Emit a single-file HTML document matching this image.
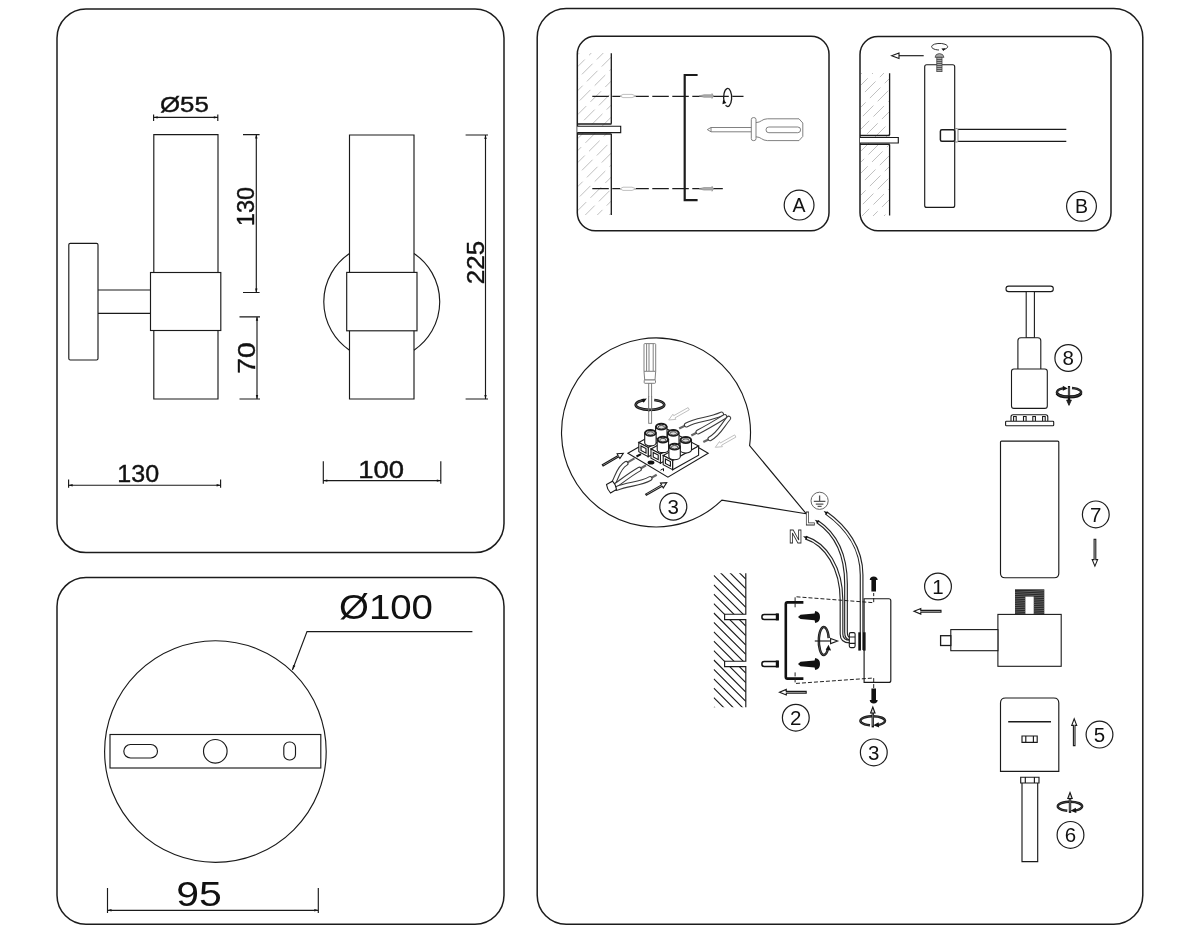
<!DOCTYPE html>
<html><head><meta charset="utf-8"><title>Installation diagram</title>
<style>
html,body{margin:0;padding:0;background:#fff;}
body{width:1200px;height:933px;overflow:hidden;position:relative;}
svg{position:absolute;left:0;top:0;display:block;filter:grayscale(1);}
text{font-family:"Liberation Sans",sans-serif;fill:#111;}
.b{fill:none;stroke:#1c1c1c;stroke-width:1.5;}
.l{fill:none;stroke:#1a1a1a;stroke-width:1.15;}
.lw{fill:#fff;stroke:#1a1a1a;stroke-width:1.1;}
.m{fill:none;stroke:#1c1c1c;stroke-width:1.5;}
.k{fill:none;stroke:#111;stroke-width:2.6;}
.g{fill:none;stroke:#7a7a7a;stroke-width:0.95;}
.gw{fill:#fff;stroke:#7a7a7a;stroke-width:0.95;}
.lg{fill:none;stroke:#b9b9b9;stroke-width:0.9;}
.lgw{fill:#fff;stroke:#b9b9b9;stroke-width:0.9;}
.d{fill:none;stroke:#1c1c1c;stroke-width:1.25;stroke-dasharray:16.5 3.5;}
.ds{fill:none;stroke:#222;stroke-width:1;stroke-dasharray:4 2;}
.f{fill:#111;stroke:none;}
.c{fill:#fff;stroke:#1c1c1c;stroke-width:1.2;}
.n{font-size:20.5px;text-anchor:middle;}
.dm{stroke:#111;stroke-width:0.4px;}
</style></head><body>
<svg width="1200" height="933" viewBox="0 0 1200 933">
<rect x="0" y="0" width="1200" height="933" fill="#fff"/>

<rect class="b" x="57" y="9" width="447" height="543.6" rx="29" ry="29"/>
<rect class="b" x="57" y="577.4" width="447" height="346.8" rx="29" ry="29"/>
<rect class="b" x="537.2" y="8.6" width="605.6" height="915.7" rx="29" ry="29"/>
<g class="l">
<rect x="68.8" y="243.3" width="29.2" height="116.7" rx="1.5"/>
<path d="M98,290 H150.5 M98,313.3 H150.5"/>
<rect x="150.5" y="272.5" width="70.3" height="58"/>
<path d="M153.8,272.5 V134.6 H218 V272.5 M153.8,330.5 V399 H218 V330.5"/>
<path d="M153.6,117.4 H217.8 M153.6,114.4 V121 M217.8,114.4 V121"/>
<path d="M256.3,134.6 V292.5 M243,134.6 H259.6 M243,292.5 H259.6"/>
<path d="M257,316.8 V399 M239.5,316.8 H260 M239.5,399 H260"/>
<path d="M349.5,253.5 A58.3,58.3 0 0 0 349.5,350.2 M414,253.5 A58.3,58.3 0 0 1 414,350.2"/>
<rect x="346.7" y="272.4" width="70.3" height="58.4"/>
<path d="M349.5,272.4 V135 H414 V272.4 M349.5,330.8 V399 H414 V330.8"/>
<path d="M485.5,135 V399 M465.6,135 H488 M465.6,399 H488"/>
<path d="M68.6,485.2 H220.6 M68.6,479.6 V487.8 M220.6,479.6 V487.8"/>
<path d="M323.3,480.6 H440.8 M323.3,461.2 V483.8 M440.8,461.2 V483.8"/>
</g>
<path class="f" d="M153.6,117.4 L157.6,116.2 L157.6,118.6 Z"/>
<path class="f" d="M217.8,117.4 L213.8,118.6 L213.8,116.2 Z"/>
<path class="f" d="M256.3,134.6 L257.5,138.6 L255.1,138.6 Z"/>
<path class="f" d="M256.3,292.5 L255.1,288.5 L257.5,288.5 Z"/>
<path class="f" d="M257.0,316.8 L258.2,320.8 L255.8,320.8 Z"/>
<path class="f" d="M257.0,399.0 L255.8,395.0 L258.2,395.0 Z"/>
<path class="f" d="M485.5,135.0 L486.7,139.0 L484.3,139.0 Z"/>
<path class="f" d="M485.5,399.0 L484.3,395.0 L486.7,395.0 Z"/>
<path class="f" d="M68.6,485.2 L72.6,484.0 L72.6,486.4 Z"/>
<path class="f" d="M220.6,485.2 L216.6,486.4 L216.6,484.0 Z"/>
<path class="f" d="M323.3,480.6 L327.3,479.4 L327.3,481.8 Z"/>
<path class="f" d="M440.8,480.6 L436.8,481.8 L436.8,479.4 Z"/>
<path class="f" d="M107.5,910.3 L111.5,909.1 L111.5,911.5 Z"/>
<path class="f" d="M318.3,910.3 L314.3,911.5 L314.3,909.1 Z"/>
<text class="dm" x="160" y="111.8" font-size="22.5" textLength="48.8" lengthAdjust="spacingAndGlyphs">Ø55</text>
<text class="dm" transform="translate(253.9,226) rotate(-90)" font-size="23.5" textLength="39" lengthAdjust="spacingAndGlyphs">130</text>
<text class="dm" transform="translate(254.6,373.8) rotate(-90)" font-size="23.5" textLength="31.5" lengthAdjust="spacingAndGlyphs">70</text>
<text class="dm" transform="translate(483.6,284.2) rotate(-90)" font-size="24" textLength="43.4" lengthAdjust="spacingAndGlyphs">225</text>
<text class="dm" x="117.3" y="482.4" font-size="23.5" textLength="41.8" lengthAdjust="spacingAndGlyphs">130</text>
<text class="dm" x="358.2" y="478.3" font-size="23" textLength="45.8" lengthAdjust="spacingAndGlyphs">100</text>
<g class="l">
<circle cx="215.4" cy="751.5" r="110.8"/>
<rect x="110" y="734.5" width="210.8" height="33.5"/>
<rect x="123.8" y="744.5" width="33.7" height="13.5" rx="6.75"/>
<circle cx="215.3" cy="751.3" r="11.8"/>
<rect x="283.8" y="742" width="11.7" height="18" rx="5.5"/>
<path d="M292.4,670 L307,631.6 H472.4"/>
<path d="M107.5,910.3 H318.3 M107.5,888 V913 M318.3,888 V913"/>
</g>
<path class="f" d="M292.4,670.0 L293.0,664.9 L295.4,665.8 Z"/>
<text x="339" y="619" font-size="34.4" textLength="94" lengthAdjust="spacingAndGlyphs">Ø100</text>
<text x="176.3" y="905.5" font-size="35.3" textLength="45.6" lengthAdjust="spacingAndGlyphs">95</text><defs>
<clipPath id="hA"><rect x="578" y="53" width="33" height="162"/></clipPath>
<clipPath id="hB"><rect x="861" y="73" width="28.4" height="143"/></clipPath>
</defs>
<rect class="b" x="577.3" y="36.2" width="251.7" height="194.6" rx="18" ry="18"/>
<g clip-path="url(#hA)"><path class="lg" stroke-width="1.1" stroke="#a6a6a6" stroke-dasharray="15 6" stroke-dashoffset="0" d="M577.0,43.3 L611.2,9.1"/><path class="lg" stroke-width="1.1" stroke="#a6a6a6" stroke-dasharray="15 6" stroke-dashoffset="9" d="M577.0,55.3 L611.2,21.1"/><path class="lg" stroke-width="1.1" stroke="#a6a6a6" stroke-dasharray="15 6" stroke-dashoffset="4" d="M577.0,67.3 L611.2,33.1"/><path class="lg" stroke-width="1.1" stroke="#a6a6a6" stroke-dasharray="15 6" stroke-dashoffset="14" d="M577.0,79.3 L611.2,45.1"/><path class="lg" stroke-width="1.1" stroke="#a6a6a6" stroke-dasharray="15 6" stroke-dashoffset="7" d="M577.0,91.3 L611.2,57.1"/><path class="lg" stroke-width="1.1" stroke="#a6a6a6" stroke-dasharray="15 6" stroke-dashoffset="17" d="M577.0,103.3 L611.2,69.1"/><path class="lg" stroke-width="1.1" stroke="#a6a6a6" stroke-dasharray="15 6" stroke-dashoffset="2" d="M577.0,115.3 L611.2,81.1"/><path class="lg" stroke-width="1.1" stroke="#a6a6a6" stroke-dasharray="15 6" stroke-dashoffset="11" d="M577.0,127.3 L611.2,93.1"/><path class="lg" stroke-width="1.1" stroke="#a6a6a6" stroke-dasharray="15 6" stroke-dashoffset="0" d="M577.0,139.3 L611.2,105.1"/><path class="lg" stroke-width="1.1" stroke="#a6a6a6" stroke-dasharray="15 6" stroke-dashoffset="9" d="M577.0,151.3 L611.2,117.1"/><path class="lg" stroke-width="1.1" stroke="#a6a6a6" stroke-dasharray="15 6" stroke-dashoffset="4" d="M577.0,163.3 L611.2,129.1"/><path class="lg" stroke-width="1.1" stroke="#a6a6a6" stroke-dasharray="15 6" stroke-dashoffset="14" d="M577.0,175.3 L611.2,141.1"/><path class="lg" stroke-width="1.1" stroke="#a6a6a6" stroke-dasharray="15 6" stroke-dashoffset="7" d="M577.0,187.3 L611.2,153.1"/><path class="lg" stroke-width="1.1" stroke="#a6a6a6" stroke-dasharray="15 6" stroke-dashoffset="17" d="M577.0,199.3 L611.2,165.1"/><path class="lg" stroke-width="1.1" stroke="#a6a6a6" stroke-dasharray="15 6" stroke-dashoffset="2" d="M577.0,211.3 L611.2,177.1"/><path class="lg" stroke-width="1.1" stroke="#a6a6a6" stroke-dasharray="15 6" stroke-dashoffset="11" d="M577.0,223.3 L611.2,189.1"/><path class="lg" stroke-width="1.1" stroke="#a6a6a6" stroke-dasharray="15 6" stroke-dashoffset="0" d="M577.0,235.3 L611.2,201.1"/><path class="lg" stroke-width="1.1" stroke="#a6a6a6" stroke-dasharray="15 6" stroke-dashoffset="9" d="M577.0,247.3 L611.2,213.1"/><path class="lg" stroke-width="1.1" stroke="#a6a6a6" stroke-dasharray="15 6" stroke-dashoffset="4" d="M577.0,259.3 L611.2,225.1"/></g>
<g class="l">
<path stroke-width="1.3" d="M611.3,53.2 V123.7 M611.3,134 V215"/>
<path class="m" d="M577.3,123.9 H611.5 M577.3,134 H611.5"/>
<path d="M577.3,126.2 H620.7 V132.6 H577.3" fill="#fff"/>
</g>
<path class="d" d="M592.3,96.4 H743.5"/>
<path class="d" d="M592.3,188.6 H722.8"/>
<path d="M697.6,75 H684.7 V200.2 H697.6" fill="none" stroke="#1c1c1c" stroke-width="2.2"/>
<path class="lgw" d="M620,96.0 l3,-1.6 h9 l4,1.6 l-4,1.6 h-9 z"/>
<path d="M699,96.0 l5,-1.3 h8 v-1.2 l1.6,2.5 l-1.6,2.5 v-1.2 h-8 z" fill="#aaa" stroke="#888" stroke-width="0.6"/>
<path class="lgw" d="M620,188.8 l3,-1.6 h9 l4,1.6 l-4,1.6 h-9 z"/>
<path d="M699,188.8 l5,-1.3 h8 v-1.2 l1.6,2.5 l-1.6,2.5 v-1.2 h-8 z" fill="#aaa" stroke="#888" stroke-width="0.6"/>
<path d="M725.6,105.2 A4,9 0 1 0 724.2,102" fill="none" stroke="#1c1c1c" stroke-width="1.3"/>
<path class="f" d="M723.2,99.6 l3.2,3.4 l-4,1.2 z"/>
<g class="g">
<path d="M707.3,129.6 L711,127.5 H751.3 M707.3,129.6 L711,131.8 H751.3 M711,127.5 V131.8" />
<rect x="751.3" y="117.6" width="4.7" height="23" rx="2"/>
<path d="M756,122.6 C761,122.6 762,118.8 767.3,118.8 H799 L802.8,123 V136.4 L799,140.6 H767.3 C762,140.6 761,136.8 756,136.8"/>
<rect x="766" y="127" width="34.6" height="5.7" rx="2.85"/>
</g>
<circle class="c" cx="799.1" cy="205.1" r="14.9"/>
<text x="799.1" y="212.1" font-size="19.5" text-anchor="middle">A</text>
<rect class="b" x="860" y="36.5" width="251" height="194.3" rx="18" ry="18"/>
<g clip-path="url(#hB)"><path class="lg" stroke-width="1.1" stroke="#a6a6a6" stroke-dasharray="15 6" stroke-dashoffset="0" d="M860.0,64.0 L889.6,34.4"/><path class="lg" stroke-width="1.1" stroke="#a6a6a6" stroke-dasharray="15 6" stroke-dashoffset="9" d="M860.0,75.0 L889.6,45.4"/><path class="lg" stroke-width="1.1" stroke="#a6a6a6" stroke-dasharray="15 6" stroke-dashoffset="4" d="M860.0,86.0 L889.6,56.4"/><path class="lg" stroke-width="1.1" stroke="#a6a6a6" stroke-dasharray="15 6" stroke-dashoffset="14" d="M860.0,97.0 L889.6,67.4"/><path class="lg" stroke-width="1.1" stroke="#a6a6a6" stroke-dasharray="15 6" stroke-dashoffset="7" d="M860.0,108.0 L889.6,78.4"/><path class="lg" stroke-width="1.1" stroke="#a6a6a6" stroke-dasharray="15 6" stroke-dashoffset="17" d="M860.0,119.0 L889.6,89.4"/><path class="lg" stroke-width="1.1" stroke="#a6a6a6" stroke-dasharray="15 6" stroke-dashoffset="2" d="M860.0,130.0 L889.6,100.4"/><path class="lg" stroke-width="1.1" stroke="#a6a6a6" stroke-dasharray="15 6" stroke-dashoffset="11" d="M860.0,141.0 L889.6,111.4"/><path class="lg" stroke-width="1.1" stroke="#a6a6a6" stroke-dasharray="15 6" stroke-dashoffset="0" d="M860.0,152.0 L889.6,122.4"/><path class="lg" stroke-width="1.1" stroke="#a6a6a6" stroke-dasharray="15 6" stroke-dashoffset="9" d="M860.0,163.0 L889.6,133.4"/><path class="lg" stroke-width="1.1" stroke="#a6a6a6" stroke-dasharray="15 6" stroke-dashoffset="4" d="M860.0,174.0 L889.6,144.4"/><path class="lg" stroke-width="1.1" stroke="#a6a6a6" stroke-dasharray="15 6" stroke-dashoffset="14" d="M860.0,185.0 L889.6,155.4"/><path class="lg" stroke-width="1.1" stroke="#a6a6a6" stroke-dasharray="15 6" stroke-dashoffset="7" d="M860.0,196.0 L889.6,166.4"/><path class="lg" stroke-width="1.1" stroke="#a6a6a6" stroke-dasharray="15 6" stroke-dashoffset="17" d="M860.0,207.0 L889.6,177.4"/><path class="lg" stroke-width="1.1" stroke="#a6a6a6" stroke-dasharray="15 6" stroke-dashoffset="2" d="M860.0,218.0 L889.6,188.4"/><path class="lg" stroke-width="1.1" stroke="#a6a6a6" stroke-dasharray="15 6" stroke-dashoffset="11" d="M860.0,229.0 L889.6,199.4"/><path class="lg" stroke-width="1.1" stroke="#a6a6a6" stroke-dasharray="15 6" stroke-dashoffset="0" d="M860.0,240.0 L889.6,210.4"/><path class="lg" stroke-width="1.1" stroke="#a6a6a6" stroke-dasharray="15 6" stroke-dashoffset="9" d="M860.0,251.0 L889.6,221.4"/></g>
<g class="l">
<path stroke-width="1.3" d="M889.6,73.2 V135.3 M889.6,144.4 V215.6"/>
<path class="m" d="M860,135.4 H889.8 M860,144.3 H889.8"/>
<path d="M860,137.5 H898.3 V143 H860" fill="#fff"/>
<rect x="924.7" y="64.7" width="30" height="142.7" rx="2"/>
<path d="M958,129.3 H1066.3 M958,141.3 H1066.3"/>
<rect x="954.7" y="128.6" width="3.3" height="13.4" rx="1" class="g"/>
<rect x="940.4" y="129.8" width="14.3" height="11.4" rx="1.5" class="m"/>
</g>
<path class="l" d="M923.7,55.7 H899"/>
<path class="lw" d="M899,53 L891.7,55.7 L899,58.4 Z"/>
<g stroke="#444" stroke-width="0.8" fill="#aaa">
<path d="M935,57.3 Q935.5,53.6 939.4,53.6 Q943.4,53.6 944,57.3 Z"/>
<rect x="936.8" y="57.3" width="5.2" height="14.3"/>
<path d="M936.8,59.5 h5.2 M936.8,61.5 h5.2 M936.8,63.5 h5.2 M936.8,65.5 h5.2 M936.8,67.5 h5.2 M936.8,69.5 h5.2" fill="none"/>
</g>
<path d="M943.5,49.6 A8,3.3 0 1 0 939,50" fill="none" stroke="#333" stroke-width="1"/>
<path class="f" d="M945.6,48.2 l-4.2,0.2 l2,2.6 z"/>
<circle class="c" cx="1081.5" cy="206.3" r="14.9"/>
<text x="1081.5" y="213.3" font-size="19.5" text-anchor="middle">B</text><path class="l" stroke-width="1.15" d="M806.2,513.7 L749.6,445.6 A94.5,94.5 0 1 0 721.9,500.2 Z" fill="none"/>
<g class="gw">
<rect x="648.7" y="383" width="2.9" height="40.3"/>
<path d="M644,344.5 Q644,343.6 645,343.6 H654.7 Q655.7,343.6 655.7,344.5 V371.3 L655,380 H644.7 L644,371.3 Z"/>
<path d="M646.6,344 V371 M649,344 V371 M653.2,344 V371 M644,371.3 H655.7" fill="none"/>
<rect x="644.2" y="380" width="11.3" height="3.3" rx="0.8"/>
</g>
<path d="M644.2,400.2 A14.3,5.0 0 1 0 654.2,400.0" fill="none" stroke="#161616" stroke-width="2.7"/>
<path d="M644.2,400.2 A14.3,5.0 0 1 0 654.2,400.0" fill="none" stroke="#fff" stroke-width="0.5" stroke-opacity="0.5"/>
<path class="f" d="M646.8,398.6 l-5.6,0.4 l2.4,3.8 z"/>
<rect x="648.9" y="397" width="2.5" height="11" fill="#fff" stroke="none"/>
<path class="g" d="M648.7,396 V412 M651.6,396 V412"/>
<path class="lgw" d="M688.1,407.6 L673.7,415.7 L672.9,414.2 L668.7,420.0 L675.8,419.4 L675.0,417.9 L689.3,409.8 Z"/>
<path class="lgw" d="M734.7,434.9 L720.3,443.0 L719.5,441.5 L715.3,447.3 L722.4,446.7 L721.6,445.2 L735.9,437.1 Z"/>
<path class="lw" d="M603.1,465.9 L618.8,456.8 L619.9,458.5 L623.3,453.3 L617.1,453.7 L618.1,455.5 L602.3,464.7 Z"/>
<path class="lw" d="M646.4,495.3 L662.2,486.2 L663.3,487.9 L666.7,482.7 L660.5,483.1 L661.5,484.9 L645.6,494.1 Z"/>
<path d="M679.2,428.6 L686.4,425.0" stroke="#666" stroke-width="2.2" fill="none"/>
<path d="M686.4,425 C697,419 708,420 721.5,414" fill="none" stroke="#3a3a3a" stroke-width="5.0" stroke-linecap="round"/><path d="M686.4,425 C697,419 708,420 721.5,414" fill="none" stroke="#fff" stroke-width="2.9" stroke-linecap="round"/>
<path d="M691.3,435.4 L698.0,432.0" stroke="#666" stroke-width="2.2" fill="none"/>
<path d="M698,432 C707,427.5 716,422 724.8,416.6" fill="none" stroke="#3a3a3a" stroke-width="5.0" stroke-linecap="round"/><path d="M698,432 C707,427.5 716,422 724.8,416.6" fill="none" stroke="#fff" stroke-width="2.9" stroke-linecap="round"/>
<path d="M703.3,442.0 L710.0,438.7" stroke="#666" stroke-width="2.2" fill="none"/>
<path d="M710,438.7 C719,434 722,426 728.7,418.2" fill="none" stroke="#3a3a3a" stroke-width="5.0" stroke-linecap="round"/><path d="M710,438.7 C719,434 722,426 728.7,418.2" fill="none" stroke="#fff" stroke-width="2.9" stroke-linecap="round"/>
<path d="M634.5,458.4 L626.0,463.4" stroke="#666" stroke-width="2.2" fill="none"/>
<path d="M626,463.4 C618,468 617,478 613.5,483" fill="none" stroke="#3a3a3a" stroke-width="5.0" stroke-linecap="round"/><path d="M626,463.4 C618,468 617,478 613.5,483" fill="none" stroke="#fff" stroke-width="2.9" stroke-linecap="round"/>
<path d="M646.0,465.3 L639.3,469.2" stroke="#666" stroke-width="2.2" fill="none"/>
<path d="M639.3,469.2 C630,474.5 622,481 615.5,485.5" fill="none" stroke="#3a3a3a" stroke-width="5.0" stroke-linecap="round"/><path d="M639.3,469.2 C630,474.5 622,481 615.5,485.5" fill="none" stroke="#fff" stroke-width="2.9" stroke-linecap="round"/>
<path d="M656.7,474.7 L650.0,478.6" stroke="#666" stroke-width="2.2" fill="none"/>
<path d="M650,478.6 C640,484.5 628,483.5 616.5,488.5" fill="none" stroke="#3a3a3a" stroke-width="5.0" stroke-linecap="round"/><path d="M650,478.6 C640,484.5 628,483.5 616.5,488.5" fill="none" stroke="#fff" stroke-width="2.9" stroke-linecap="round"/>
<path class="lw" stroke="#444" d="M606.5,484.5 L612.5,481.2 Q615.5,484 616.5,489.5 L610.5,493 Q607,489 606.5,484.5 Z"/>
<path class="lw" d="M627.9,453.3 L668.7,430 L708.2,453.3 L667.9,477.1 Z"/>
<path class="lw" d="M638.8,442.5 L648.2,447.5 L674.2,433.1 L664.8,428.1 Z"/><path class="lw" d="M648.2,447.5 L674.2,433.1 L674.2,442.3 L648.2,456.7 Z"/><path class="lw" d="M638.8,442.5 L648.2,447.5 L648.2,456.7 L638.8,451.7 Z"/><path d="M641.0,445.9 L646.0,448.6 L646.0,453.2 L641.0,450.5 Z" fill="#fff" stroke="#111" stroke-width="1.1"/>
<path class="lw" d="M655.6,426.7 V436.5 A5.7,3.2 0 0 0 667.0,436.5 V426.7 Z"/><ellipse cx="661.3" cy="426.7" rx="5.2" ry="2.9" fill="#fff" stroke="#1c1c1c" stroke-width="2"/><ellipse cx="661.3" cy="427.2" rx="3.2" ry="1.7" fill="#ddd" stroke="#333" stroke-width="0.9"/>
<path class="lw" d="M644.7,432.9 V442.7 A5.7,3.2 0 0 0 656.1,442.7 V432.9 Z"/><ellipse cx="650.4" cy="432.9" rx="5.2" ry="2.9" fill="#fff" stroke="#1c1c1c" stroke-width="2"/><ellipse cx="650.4" cy="433.4" rx="3.2" ry="1.7" fill="#ddd" stroke="#333" stroke-width="0.9"/>
<path class="lw" d="M651.0,449.0 L660.4,454.0 L686.4,439.6 L677.0,434.6 Z"/><path class="lw" d="M660.4,454.0 L686.4,439.6 L686.4,448.8 L660.4,463.2 Z"/><path class="lw" d="M651.0,449.0 L660.4,454.0 L660.4,463.2 L651.0,458.2 Z"/><path d="M653.2,452.4 L658.2,455.1 L658.2,459.7 L653.2,457.0 Z" fill="#fff" stroke="#111" stroke-width="1.1"/>
<path class="lw" d="M667.6,432.9 V442.7 A5.7,3.2 0 0 0 679.0,442.7 V432.9 Z"/><ellipse cx="673.3" cy="432.9" rx="5.2" ry="2.9" fill="#fff" stroke="#1c1c1c" stroke-width="2"/><ellipse cx="673.3" cy="433.4" rx="3.2" ry="1.7" fill="#ddd" stroke="#333" stroke-width="0.9"/>
<path class="lw" d="M657.2,439.6 V449.4 A5.7,3.2 0 0 0 668.6,449.4 V439.6 Z"/><ellipse cx="662.9" cy="439.6" rx="5.2" ry="2.9" fill="#fff" stroke="#1c1c1c" stroke-width="2"/><ellipse cx="662.9" cy="440.1" rx="3.2" ry="1.7" fill="#ddd" stroke="#333" stroke-width="0.9"/>
<path class="lw" d="M663.2,455.5 L672.6,460.5 L698.6,446.1 L689.2,441.1 Z"/><path class="lw" d="M672.6,460.5 L698.6,446.1 L698.6,455.3 L672.6,469.7 Z"/><path class="lw" d="M663.2,455.5 L672.6,460.5 L672.6,469.7 L663.2,464.7 Z"/><path d="M665.4,458.9 L670.4,461.6 L670.4,466.2 L665.4,463.5 Z" fill="#fff" stroke="#111" stroke-width="1.1"/>
<path class="lw" d="M680.1,440.0 V449.8 A5.7,3.2 0 0 0 691.5,449.8 V440.0 Z"/><ellipse cx="685.8" cy="440.0" rx="5.2" ry="2.9" fill="#fff" stroke="#1c1c1c" stroke-width="2"/><ellipse cx="685.8" cy="440.5" rx="3.2" ry="1.7" fill="#ddd" stroke="#333" stroke-width="0.9"/>
<path class="lw" d="M668.9,446.7 V456.5 A5.7,3.2 0 0 0 680.3,456.5 V446.7 Z"/><ellipse cx="674.6" cy="446.7" rx="5.2" ry="2.9" fill="#fff" stroke="#1c1c1c" stroke-width="2"/><ellipse cx="674.6" cy="447.2" rx="3.2" ry="1.7" fill="#ddd" stroke="#333" stroke-width="0.9"/>
<ellipse cx="651" cy="462.6" rx="3.4" ry="2" fill="#111"/>
<path d="M636.5,456.5 l4.5,-2.4" stroke="#111" stroke-width="2" fill="none"/>
<path d="M660.5,470.2 l3,-1.6 v2.6" stroke="#111" stroke-width="1" fill="none"/>
<circle class="c" cx="673.3" cy="506.7" r="13.5"/>
<text class="n" x="673.3" y="514.1">3</text><circle cx="819.6" cy="500.8" r="8.6" fill="#fff" stroke="#666" stroke-width="1"/>
<path d="M819.6,495.4 V501.3 M813.8,501.3 H825.4 M815.8,504.1 H823.4 M817.6,506.4 H821.6" fill="none" stroke="#555" stroke-width="1.3"/>
<text x="805.2" y="525.2" font-size="19" font-weight="bold" textLength="9.6" lengthAdjust="spacingAndGlyphs" style="fill:#fff;stroke:#2a2a2a;stroke-width:0.85px">L</text>
<text x="788.9" y="542.9" font-size="19" font-weight="bold" textLength="13.2" lengthAdjust="spacingAndGlyphs" style="fill:#fff;stroke:#2a2a2a;stroke-width:0.85px">N</text>
<path d="M826,512.8 C846,527 861.6,548 861.6,575 V650" fill="none" stroke="#262626" stroke-width="3.8"/><path d="M826,512.8 C846,527 861.6,548 861.6,575 V650" fill="none" stroke="#fff" stroke-width="1.5"/>
<path d="M817.2,521.5 C836,534 846,556 846,584 V632 Q846,638.5 850,638.5" fill="none" stroke="#262626" stroke-width="3.8"/><path d="M817.2,521.5 C836,534 846,556 846,584 V632 Q846,638.5 850,638.5" fill="none" stroke="#fff" stroke-width="1.5"/>
<path d="M805.5,537.6 C826,544 841.5,568 841.5,600 V634 Q841.5,641.6 850,641.6" fill="none" stroke="#262626" stroke-width="3.8"/><path d="M805.5,537.6 C826,544 841.5,568 841.5,600 V634 Q841.5,641.6 850,641.6" fill="none" stroke="#fff" stroke-width="1.5"/>
<path class="f" d="M823.6,511 l4.6,1.2 l-1.8,2.6 z M814.8,519.8 l4.6,1.2 l-1.8,2.6 z M803,536.2 l4.8,0.4 l-1.2,2.9 z"/>
<defs><clipPath id="hW"><path d="M713.5,573.3 H745.8 V614.2 H724.6 V619.6 H745.8 V661.2 H724.6 V666.6 H745.8 V707.3 H713.5 Z"/></clipPath></defs>
<g clip-path="url(#hW)"><path class="l" stroke-width="1.25" d=" M713.8,528.4 L745.8,560.4 M713.8,537.8 L745.8,569.8 M713.8,547.2 L745.8,579.2 M713.8,556.6 L745.8,588.6 M713.8,566.0 L745.8,598.0 M713.8,575.4 L745.8,607.4 M713.8,584.8 L745.8,616.8 M713.8,594.2 L745.8,626.2 M713.8,603.6 L745.8,635.6 M713.8,613.0 L745.8,645.0 M713.8,622.4 L745.8,654.4 M713.8,631.8 L745.8,663.8 M713.8,641.2 L745.8,673.2 M713.8,650.6 L745.8,682.6 M713.8,660.0 L745.8,692.0 M713.8,669.4 L745.8,701.4 M713.8,678.8 L745.8,710.8 M713.8,688.2 L745.8,720.2 M713.8,697.6 L745.8,729.6 M713.8,707.0 L745.8,739.0 "/></g>
<path class="l" stroke-width="1.2" d="M745.8,573.3 V614.2 H724.6 V619.6 H745.8 V661.2 H724.6 V666.6 H745.8 V707.3"/>
<path d="M778,614.4 H764.2 Q761.9,614.4 761.9,616.9 Q761.9,619.4 764.2,619.4 H778 Z" fill="#fff" stroke="#111" stroke-width="1.5"/><rect x="775.8" y="613.4" width="3" height="7" fill="#111"/>
<path d="M778,661.5 H764.2 Q761.9,661.5 761.9,664.0 Q761.9,666.5 764.2,666.5 H778 Z" fill="#fff" stroke="#111" stroke-width="1.5"/><rect x="775.8" y="660.5" width="3" height="7" fill="#111"/>
<path class="k" stroke-width="2.8" d="M803.4,602.4 H787.5 Q785.8,602.4 785.8,604 V677 Q785.8,678.6 787.5,678.6 H803.4"/>
<path class="ds" d="M795.1,607.3 V596.7 L873.7,602.7 V593"/>
<path class="ds" d="M795.1,672.4 V683.5 L873.7,678 V688"/>
<path class="f" d="M798,616.9 L800.5,614.7 L814.6,613.5 L815.2,610.9 Q820.2,611.9 820,616.9 Q820.2,621.9 815.2,622.9 L814.6,620.3 L800.5,619.1 Z"/>
<path class="f" d="M798,664.0 L800.5,661.8 L814.6,660.6 L815.2,658.0 Q820.2,659.0 820,664.0 Q820.2,669.0 815.2,670.0 L814.6,667.4 L800.5,666.2 Z"/>
<path d="M828.7,638.1 A5.0,14.0 0 1 0 827.9,649.0" fill="none" stroke="#161616" stroke-width="2.5"/>
<path d="M828.7,638.1 A5.0,14.0 0 1 0 827.9,649.0" fill="none" stroke="#fff" stroke-width="0.5" stroke-opacity="0.45"/>
<path class="f" d="M828.5,644.8 l2.6,5.6 l-5.4,-0.6 z"/>
<path class="l" stroke-width="1.6" d="M814.8,641 H831"/>
<path class="lw" d="M830.6,638.4 L837.6,641 L830.6,643.6 Z"/>
<rect x="849.3" y="632.6" width="5.8" height="15" rx="1.5" class="lw" stroke-width="1.1"/>
<path class="l" d="M849.3,637 H855.1 M849.3,643.4 H855.1"/>
<rect x="858.3" y="632.3" width="2.5" height="18.3" class="f"/><rect x="863" y="632.3" width="2.6" height="18.3" class="f"/>
<path class="l" d="M864.1,598.7 H888.8 Q890.8,598.7 890.8,600.7 V680.4 Q890.8,682.4 888.8,682.4 H864.1 Z"/>
<path class="f" d="M869.7,580 Q870,576.6 873.7,576.4 Q877.4,576.6 877.7,580 Z M871.4,580 H876 V591.6 H871.4 Z"/>
<path class="f" d="M869.7,700 Q870,703.4 873.7,703.6 Q877.4,703.4 877.7,700 Z M871.4,700 H876 V688.4 H871.4 Z"/>
<path d="M877.8,725.0 A12.3,4.6 0 1 0 870.0,725.3" fill="none" stroke="#141414" stroke-width="2.5"/><path d="M877.8,725.0 A12.3,4.6 0 1 0 870.0,725.3" fill="none" stroke="#fff" stroke-width="0.5" stroke-opacity="0.35"/><path class="f" d="M873.2,725.2 l5.4,-3 l0.6,5.4 z"/><path d="M872.8,727.4 V712.8" stroke="#141414" stroke-width="2.4" fill="none"/><path d="M872.8,725.8 V712.8" stroke="#fff" stroke-width="0.6" stroke-opacity="0.8" fill="none"/><path d="M872.8,707.0 l2.2,6 h-4.4 z" fill="#ddd" stroke="#141414" stroke-width="1.1"/>
<circle class="c" cx="938.0" cy="586.5" r="13.4"/><text class="n" x="938.0" y="593.9">1</text>
<circle class="c" cx="795.8" cy="717.7" r="13.4"/><text class="n" x="795.8" y="725.1">2</text>
<circle class="c" cx="873.8" cy="752.4" r="13.4"/><text class="n" x="873.8" y="759.8">3</text>
<path class="lw" d="M941.0,610.4 L920.8,610.4 L920.8,608.5 L914.0,611.3 L920.8,614.1 L920.8,612.1 L941.0,612.1 Z"/>
<path class="lw" d="M806.2,691.4 L786.3,691.4 L786.3,689.4 L779.5,692.2 L786.3,695.0 L786.3,693.1 L806.2,693.1 Z"/>
<g class="lw">
<rect x="1006" y="286.1" width="47.3" height="5.5" rx="2.7"/>
<rect x="1026.2" y="291.6" width="8.2" height="46.4"/>
<path d="M1017.9,369 V340.8 Q1017.9,337.8 1020.9,337.8 H1037.8 Q1040.8,337.8 1040.8,340.8 V369"/>
<rect x="1011.5" y="369" width="35.8" height="39.4" rx="2.5"/>
<path d="M1011,421.3 V417 Q1011,414.8 1013,414.8 H1045.8 Q1047.8,414.8 1047.8,417 V421.3"/>
<path d="M1013.6,421.3 V416.5 h2.6 V421.3 M1023.5,421.3 V416.5 h2.6 V421.3 M1032.8,421.3 V416.5 h2.6 V421.3 M1042.6,421.3 V416.5 h2.6 V421.3"/>
<rect x="1005.6" y="421.3" width="48.1" height="4.5" rx="0.8"/>
</g>
<circle class="c" cx="1068.3" cy="358.0" r="13.4"/><text class="n" x="1068.3" y="365.4">8</text>
<path d="M1064.4,388.2 A12.2,4.5 0 1 0 1072.0,388.0" fill="none" stroke="#141414" stroke-width="2.3"/><path d="M1057.0,393.2 A12.2,4.5 0 0 0 1081.0,393.2" fill="none" stroke="#141414" stroke-width="3.2"/><path d="M1064.4,388.2 A12.2,4.5 0 1 0 1072.0,388.0" fill="none" stroke="#fff" stroke-width="0.5" stroke-opacity="0.35"/><path class="f" d="M1067.8,388.4 l-5,-2.6 l0,5 z"/><path d="M1069.0,386.0 V400.4" stroke="#141414" stroke-width="2.2" fill="none"/><path d="M1069.0,387.4 V395.4" stroke="#fff" stroke-width="0.6" stroke-opacity="0.8" fill="none"/><path d="M1069.0,405.4 l2.4,-5.4 h-4.8 z" fill="#222" stroke="#141414" stroke-width="0.8"/>
<path class="l" d="M1000.5,442.1 Q1000.5,441.1 1001.5,441.1 H1057.8 Q1058.8,441.1 1058.8,442.1 V573.2 Q1058.8,577.7 1054.3,577.7 H1005 Q1000.5,577.7 1000.5,573.2 Z"/>
<circle class="c" cx="1095.8" cy="514.4" r="13.4"/><text class="n" x="1095.8" y="521.8">7</text>
<path class="lw" d="M1094.1,539.2 L1094.1,559.6 L1092.2,559.6 L1094.9,566.1 L1097.6,559.6 L1095.8,559.6 L1095.8,539.2 Z"/>
<rect x="1015" y="589.3" width="29.3" height="25.1" fill="#2a2a2a"/>
<rect x="1025.4" y="596.6" width="8.3" height="18" fill="#fff"/>
<path d="M1015,592.3 L1044.3,590.7 M1015,594.5 L1044.3,592.9 M1015,596.7 L1044.3,595.1 M1015,598.9 L1044.3,597.3 M1015,601.1 L1044.3,599.5 M1015,603.3 L1044.3,601.7 M1015,605.5 L1044.3,603.9 M1015,607.7 L1044.3,606.1 M1015,609.9 L1044.3,608.3 M1015,612.1 L1044.3,610.5 M1015,614.3 L1044.3,612.7" stroke="#999" stroke-width="0.5" fill="none"/>
<rect x="1025.9" y="597" width="7.3" height="17.4" fill="#fff"/>
<g class="lw">
<rect x="997.9" y="614.4" width="63.3" height="51.9"/>
<rect x="950.8" y="629.6" width="47.1" height="21.1"/>
<rect x="940.6" y="635.7" width="10.2" height="9.8" stroke-width="1.3"/>
</g>
<path class="l" d="M1000.5,771.3 V703 Q1000.5,698 1005.5,698 H1053.8 Q1058.8,698 1058.8,703 V771.3 Z"/>
<path class="m" stroke-width="2.1" d="M1008.2,721.8 H1051"/>
<path class="l" d="M1022,736 H1037.2 V742.3 H1022 Z M1025.8,736 V742.3 M1033.4,736 V742.3"/>
<path class="lw" d="M1075.0,745.6 L1075.0,725.4 L1076.7,725.4 L1074.2,718.9 L1071.7,725.4 L1073.4,725.4 L1073.4,745.6 Z"/>
<circle class="c" cx="1099.5" cy="734.6" r="13.4"/><text class="n" x="1099.5" y="742.0">5</text>
<path class="l" d="M1020.7,777.2 H1039 V783 H1020.7 Z M1025.3,777.2 V783 M1034.4,777.2 V783"/>
<path class="l" d="M1022,783 V861.6 H1037.7 V783"/>
<path d="M1075.0,810.5 A12.2,4.6 0 1 0 1067.3,810.8" fill="none" stroke="#141414" stroke-width="2.5"/><path d="M1075.0,810.5 A12.2,4.6 0 1 0 1067.3,810.8" fill="none" stroke="#fff" stroke-width="0.5" stroke-opacity="0.35"/><path class="f" d="M1070.4,810.7 l5.4,-3 l0.6,5.4 z"/><path d="M1070.0,812.9 V798.3" stroke="#141414" stroke-width="2.4" fill="none"/><path d="M1070.0,811.3 V798.3" stroke="#fff" stroke-width="0.6" stroke-opacity="0.8" fill="none"/><path d="M1070.0,792.5 l2.2,6 h-4.4 z" fill="#ddd" stroke="#141414" stroke-width="1.1"/>
<circle class="c" cx="1070.5" cy="834.9" r="13.4"/><text class="n" x="1070.5" y="842.3">6</text>
</svg></body></html>
